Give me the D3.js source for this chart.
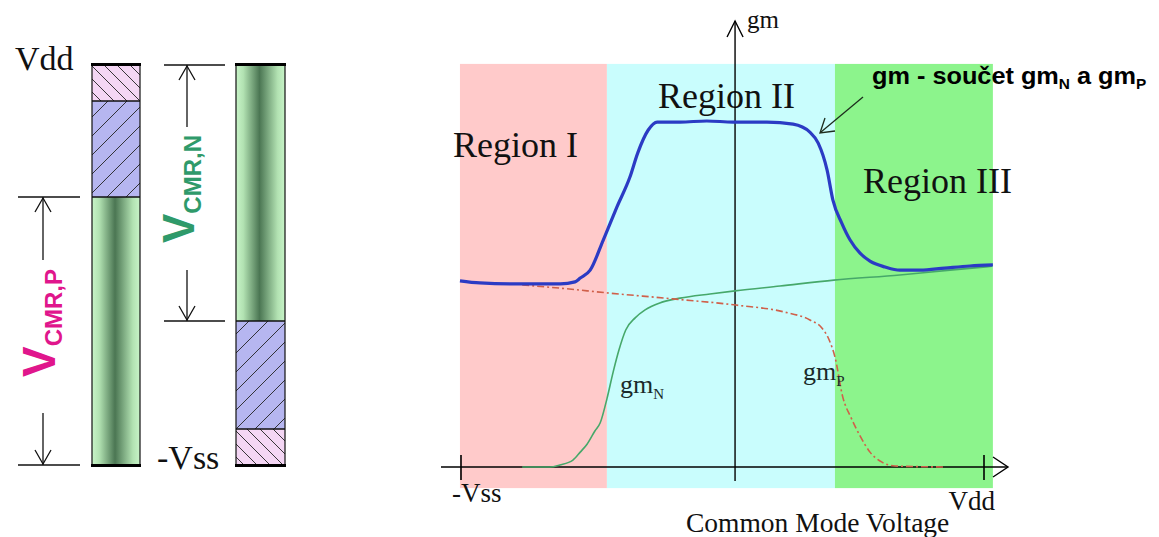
<!DOCTYPE html>
<html><head><meta charset="utf-8">
<script src="https://cdn.jsdelivr.net/npm/d3@7"></script>
<style>body{margin:0;background:#fff}svg{display:block}</style>
</head><body>
<script>
// ---------- data ----------
// common-mode voltage in % of supply span (0 = -Vss, 100 = Vdd); gm in % of max
const gmX     = [-0.2,3.6,11.3,19.0,21.8,22.8,24.7,27.2,29.8,32.3,33.8,35.8,37.5,41.9,47.0,52.0,58.5,63.5,66.7,68.3,70.0,71.1,72.8,74.4,76.3,78.2,81.1,83.9,87.8,92.5,97.3,101.7];
const gmTotal = [53.8,53.2,52.9,52.9,53.5,54.6,56.9,65.6,75.1,83.8,90.8,97.4,99.7,99.7,100,99.7,99.7,99.1,96.8,93.6,85.8,77.2,70.5,65.6,61.8,59.5,57.8,56.9,56.9,57.5,58.1,58.4];
const gmNX    = [11.7,17.0,18.9,21.4,22.8,24.1,25.6,26.6,27.9,29.1,30.2,31.5,33.3,35.2,38.0,41.9,47.6,52.4,61.0,71.3,83.9,93.5,101.5];
const gmN     = [0,0,0.6,2.0,4.3,6.6,10.4,12.7,19.7,27.5,33.8,39.6,43.1,45.4,47.4,48.8,50.0,50.9,52.3,54.0,55.5,56.9,58.0];
const gmPX    = [11.7,18.9,28.1,40.5,52.6,61.8,66.7,69.0,70.4,71.5,73.0,74.6,76.3,78.2,80.5,83.0,92.2];
const gmP     = [52.6,51.7,50.3,48.6,46.8,44.8,42.5,40.2,36.7,31.8,20.2,14.2,9.0,4.3,1.4,0.3,0];
const regionNames  = ["Region I","Region II","Region III"];
const regionBounds = [-0.2,27.9,71.5,101.7];
const regionColors = ["#ffcaca","#c9fdfd","#8cf48c"];
const xTickValues  = [0,100];
const xTickLabels  = ["-Vss","Vdd"];
const xTitle = "Common Mode Voltage";
const yTitle = "gm";
const yAxisAt = 52.4;
// left diagram: segment boundaries in % of supply span (top to bottom)
const bar1Bounds = [100,91,67,0];
const bar1Kinds  = ["pink","blue","green"];
const bar2Bounds = [100,36,9,0];
const bar2Kinds  = ["green","blue","pink"];
const vcmrP = [0,67];   // P input common-mode range
const vcmrN = [36,100]; // N input common-mode range

// ---------- drawing ----------
const W=1159,H=537;
const svg=d3.select("body").append("svg").attr("width",W).attr("height",H);
svg.append("rect").attr("width",W).attr("height",H).attr("fill","#fff");
const defs=svg.append("defs");
const g1=defs.append("linearGradient").attr("id","barGreen").attr("x1",0).attr("x2",1).attr("y1",0).attr("y2",0);
[[0,"#c8f4c8"],[0.15,"#b2e2b2"],[0.48,"#4b7653"],[0.85,"#b2e2b2"],[1,"#c8f4c8"]].forEach(s=>g1.append("stop").attr("offset",s[0]).attr("stop-color",s[1]));
const pp=defs.append("pattern").attr("id","pinkHatch").attr("patternUnits","userSpaceOnUse").attr("width",13).attr("height",13);
pp.append("rect").attr("width",13).attr("height",13).attr("fill","#f4d6f4");
pp.append("path").attr("d","M0,0L13,13M-4,9L4,17M9,-4L17,4").attr("stroke","#222").attr("stroke-width",0.9);
const bp=defs.append("pattern").attr("id","blueHatch").attr("patternUnits","userSpaceOnUse").attr("width",19).attr("height",19);
bp.append("rect").attr("width",19).attr("height",19).attr("fill","#b6b6f0");
bp.append("path").attr("d","M0,19L19,0M-5,5L5,-5M14,24L24,14").attr("stroke","#222").attr("stroke-width",0.9);
const fillOf={pink:"url(#pinkHatch)",blue:"url(#blueHatch)",green:"url(#barGreen)"};

// left diagram
const v=d3.scaleLinear().domain([0,100]).range([465,65]);
function bar(x0,x1,bounds,kinds){
  const gg=svg.append("g");
  kinds.forEach((k,i)=>{
    gg.append("rect").attr("x",x0).attr("width",x1-x0).attr("y",v(bounds[i])).attr("height",v(bounds[i+1])-v(bounds[i])).attr("fill",fillOf[k]);
    if(i>0) gg.append("line").attr("x1",x0).attr("x2",x1).attr("y1",v(bounds[i])).attr("y2",v(bounds[i])).attr("stroke","#111").attr("stroke-width",1.3);
  });
  gg.append("rect").attr("x",x0).attr("y",v(100)).attr("width",x1-x0).attr("height",v(0)-v(100)).attr("fill","none").attr("stroke","#111").attr("stroke-width",1.2);
  gg.append("line").attr("x1",x0-1).attr("x2",x1+1).attr("y1",v(100)-0.5).attr("y2",v(100)-0.5).attr("stroke","#000").attr("stroke-width",3);
  gg.append("line").attr("x1",x0-1).attr("x2",x1+1).attr("y1",v(0)+0.5).attr("y2",v(0)+0.5).attr("stroke","#000").attr("stroke-width",3);
}
bar(92,140,bar1Bounds,bar1Kinds);
bar(236,285,bar2Bounds,bar2Kinds);

function dimArrow(cx,xl,xr,rng,gapTop,gapBot){
  const yt=v(rng[1]), yb=v(rng[0]);
  const gg=svg.append("g").attr("stroke","#111").attr("stroke-width",1.3).attr("fill","none");
  gg.append("line").attr("x1",xl).attr("x2",xr).attr("y1",yt).attr("y2",yt);
  gg.append("line").attr("x1",xl).attr("x2",xr).attr("y1",yb).attr("y2",yb);
  gg.append("line").attr("x1",cx).attr("x2",cx).attr("y1",yt).attr("y2",gapTop);
  gg.append("line").attr("x1",cx).attr("x2",cx).attr("y1",gapBot).attr("y2",yb);
  gg.append("path").attr("d",`M${cx-8},${yt+15}L${cx},${yt+1}L${cx+8},${yt+15}`);
  gg.append("path").attr("d",`M${cx-8},${yb-15}L${cx},${yb-1}L${cx+8},${yb-15}`);
}
dimArrow(43,18,80,vcmrP,260,413);
dimArrow(187,164,225,vcmrN,127,270);

function rotLabel(x,y,color,sub,big){
  const t=svg.append("text").attr("transform",`translate(${x},${y}) rotate(-90)`)
    .attr("font-family","Liberation Sans, Arial, sans-serif").attr("font-weight","bold").attr("fill",color);
  t.append("tspan").attr("font-size",big).text("V");
  t.append("tspan").attr("font-size",24).attr("dy",7).text(sub);
}
rotLabel(55,377,"#e0168c","CMR,P",46);
rotLabel(194,243,"#2f9a6a","CMR,N",44);

const serif="Liberation Serif, Times New Roman, serif";
svg.append("text").attr("x",15).attr("y",70).attr("font-family",serif).attr("font-size",34).attr("fill","#111").text("Vdd");
svg.append("text").attr("x",157).attr("y",469).attr("font-family",serif).attr("font-size",34).attr("fill","#111").text("-Vss");

// right chart
const x=d3.scaleLinear().domain([0,100]).range([461,984]);
const y=d3.scaleLinear().domain([0,100]).range([467,121]);
const rTop=y(116.5), rBot=y(-6.1);
regionNames.forEach((n,i)=>{
  svg.append("rect").attr("x",x(regionBounds[i])).attr("width",x(regionBounds[i+1])-x(regionBounds[i]))
    .attr("y",rTop).attr("height",rBot-rTop).attr("fill",regionColors[i]);
});
const regionLabelPos=[[453,157],[658,108],[863,193]];
regionNames.forEach((n,i)=>svg.append("text").attr("x",regionLabelPos[i][0]).attr("y",regionLabelPos[i][1])
  .attr("font-family",serif).attr("font-size",36).attr("fill","#111").text(n));

// axes
const ax=svg.append("g").attr("stroke","#000").attr("stroke-width",1.4).attr("fill","none");
ax.append("line").attr("x1",441).attr("x2",1008).attr("y1",y(0)).attr("y2",y(0));
ax.append("path").attr("d",`M993,${y(0)-10}L1008,${y(0)}L993,${y(0)+10}`);
xTickValues.forEach(t=>ax.append("line").attr("x1",x(t)).attr("x2",x(t)).attr("y1",y(0)-12).attr("y2",y(0)+13).attr("stroke-width",1.6));
const yx=x(yAxisAt);
ax.append("line").attr("x1",yx).attr("x2",yx).attr("y1",21).attr("y2",481);
ax.append("path").attr("d",`M${yx-8},37L${yx},21L${yx+8},37`);

svg.append("text").attr("x",747).attr("y",28).attr("font-family",serif).attr("font-size",25).attr("fill","#111").text(yTitle);
svg.append("text").attr("x",x(0)-9).attr("y",502).attr("font-family",serif).attr("font-size",27).attr("fill","#111").text(xTickLabels[0]);
svg.append("text").attr("x",x(100)+11).attr("y",510).attr("font-family",serif).attr("font-size",27).attr("fill","#111").attr("text-anchor","end").text(xTickLabels[1]);
svg.append("text").attr("x",686).attr("y",532).attr("font-family",serif).attr("font-size",27.5).attr("fill","#111").text(xTitle);

// curves
const line=d3.line().x(d=>x(d[0])).y(d=>y(d[1])).curve(d3.curveMonotoneX);
svg.append("path").attr("d",line(d3.zip(gmNX,gmN))).attr("fill","none").attr("stroke","#46a86a").attr("stroke-width",1.6);
svg.append("path").attr("d",line(d3.zip(gmPX,gmP))).attr("fill","none").attr("stroke","#d0604a").attr("stroke-width",1.6).attr("stroke-dasharray","7,3,2,3");
svg.append("path").attr("d",line(d3.zip(gmX,gmTotal))).attr("fill","none").attr("stroke","#2b3bc4").attr("stroke-width",3.2).attr("stroke-linejoin","round");

// curve labels
function subLabel(xp,yp,main,sub){
  const t=svg.append("text").attr("x",xp).attr("y",yp).attr("font-family",serif).attr("fill","#1a2a2a");
  t.append("tspan").attr("font-size",26).text(main);
  t.append("tspan").attr("font-size",15).attr("dy",6).text(sub);
}
subLabel(620,393,"gm","N");
subLabel(803,380,"gm","P");

// annotation
const ann=svg.append("text").attr("transform","translate(872,84) scale(1.1,1)")
  .attr("font-family","Liberation Sans, Arial, sans-serif").attr("font-weight","bold").attr("fill","#000");
ann.append("tspan").attr("font-size",23).text("gm - součet gm");
ann.append("tspan").attr("font-size",14).attr("dy",5).text("N");
ann.append("tspan").attr("font-size",23).attr("dy",-5).text(" a gm");
ann.append("tspan").attr("font-size",14).attr("dy",5).text("P");
const ag=svg.append("g").attr("stroke","#1d2d1d").attr("stroke-width",1.3).attr("fill","none");
ag.append("line").attr("x1",863).attr("y1",97).attr("x2",821).attr("y2",132);
ag.append("path").attr("d","M825,118L820,133L835,131");
</script>
</body></html>
